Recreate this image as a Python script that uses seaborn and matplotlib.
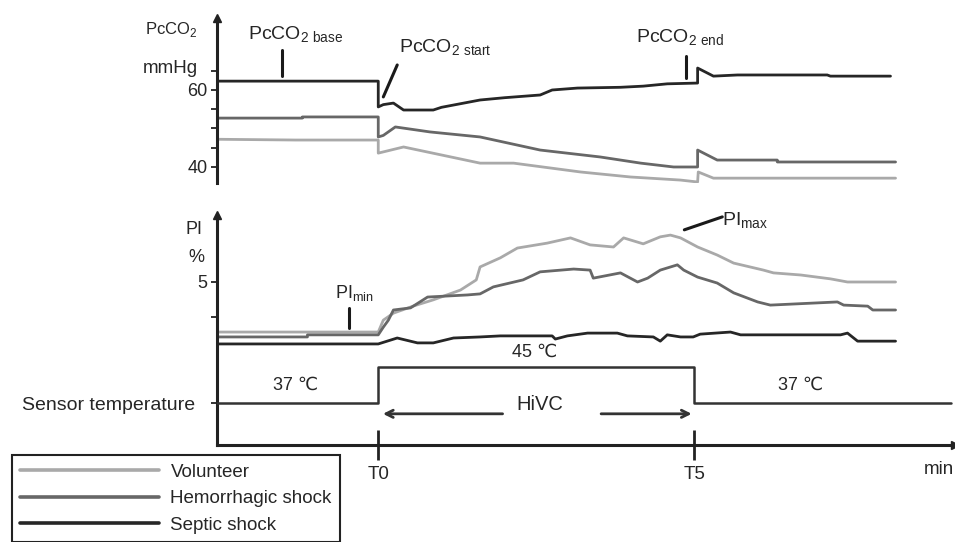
import numpy as np
import pandas as pd
import matplotlib.pyplot as plt
import seaborn as sns
from matplotlib.lines import Line2D

# time in min (T0 = 0, T5 = 5)
# PcCO2 (mmHg)
vol_co2_t = [-2.55, -1.3, 0.0, 0.0, 0.40, 1.61, 2.14, 3.20, 3.99, 4.78, 5.05, 5.06, 5.30, 8.18]
vol_co2 = [47.2, 47.0, 47.0, 43.6, 45.2, 41.0, 41.0, 38.7, 37.4, 36.6, 36.1, 38.7, 37.1, 37.1]
hem_co2_t = [-2.55, -1.20, -1.20, 0.0, 0.0, 0.08, 0.27, 0.82, 1.61, 2.56, 3.51, 4.15, 4.67, 5.05, 5.05, 5.36, 6.31,
             6.31, 8.18]
hem_co2 = [52.7, 52.7, 53.0, 53.0, 47.8, 48.2, 50.4, 49.1, 47.8, 44.4, 42.6, 41.0, 40.0, 40.0, 44.4, 41.8, 41.8,
           41.3, 41.3]
sep_co2_t = [-2.55, 0.0, 0.0, 0.08, 0.24, 0.40, 0.87, 1.0, 1.61, 2.0, 2.56, 2.75, 3.15, 3.83, 4.19, 4.57, 5.05,
             5.05, 5.30, 5.68, 7.10, 7.15, 8.10]
sep_co2 = [62.3, 62.3, 55.6, 56.2, 56.6, 54.8, 54.8, 55.5, 57.4, 58.0, 58.7, 60.0, 60.5, 60.7, 61.0, 61.6, 61.8,
           65.7, 63.6, 63.9, 63.9, 63.6, 63.6]

# PI (%)
vol_pi_t = [-2.55, 0.0, 0.08, 0.24, 0.55, 0.87, 1.30, 1.55, 1.61, 1.93, 2.20, 2.67, 3.04, 3.35, 3.72, 3.88, 4.19,
            4.46, 4.62, 4.78, 5.05, 5.36, 5.62, 6.09, 6.25, 6.68, 7.15, 7.42, 8.18]
vol_pi = [3.57, 3.57, 3.91, 4.11, 4.31, 4.49, 4.77, 5.06, 5.43, 5.69, 5.97, 6.11, 6.26, 6.06, 6.0, 6.26, 6.09,
          6.29, 6.34, 6.26, 6.0, 5.77, 5.54, 5.34, 5.26, 5.2, 5.09, 5.0, 5.0]
hem_pi_t = [-2.55, -1.12, -1.12, 0.0, 0.08, 0.16, 0.24, 0.51, 0.78, 1.41, 1.61, 1.82, 2.29, 2.56, 3.09, 3.35, 3.40,
            3.83, 4.10, 4.26, 4.46, 4.73, 4.83, 5.05, 5.36, 5.62, 6.00, 6.20, 7.26, 7.36, 7.74, 7.82, 8.18]
hem_pi = [3.43, 3.43, 3.49, 3.49, 3.71, 3.91, 4.2, 4.26, 4.57, 4.63, 4.66, 4.86, 5.06, 5.29, 5.37, 5.34, 5.11,
          5.26, 5.0, 5.11, 5.34, 5.49, 5.34, 5.14, 4.97, 4.69, 4.43, 4.34, 4.43, 4.34, 4.31, 4.2, 4.2]
sep_pi_t = [-2.55, 0.0, 0.30, 0.62, 0.87, 1.19, 1.61, 1.93, 2.75, 2.80, 2.99, 3.31, 3.78, 3.94, 4.35, 4.46, 4.57,
            4.78, 4.98, 5.09, 5.57, 5.73, 7.31, 7.42, 7.58, 8.18]
sep_pi = [3.23, 3.23, 3.4, 3.26, 3.26, 3.4, 3.43, 3.46, 3.46, 3.37, 3.46, 3.54, 3.54, 3.46, 3.43, 3.31, 3.49,
          3.43, 3.43, 3.51, 3.57, 3.49, 3.49, 3.54, 3.31, 3.31]

# sensor temperature (°C)
temp_t = [-2.55, 0.0, 0.0, 5.0, 5.0, 9.05]
temp_c = [37, 37, 45, 45, 37, 37]

groups = ['Volunteer', 'Hemorrhagic shock', 'Septic shock']
colors = ['#a9a9a9', '#676767', '#262626']

sns.set_style('white')
plt.rcParams['font.family'] = ['Liberation Sans', 'DejaVu Sans']
plt.rcParams['mathtext.fontset'] = 'custom'
plt.rcParams['mathtext.rm'] = 'Liberation Sans'
plt.rcParams['font.size'] = 13

fig = plt.figure(figsize=(9.55, 5.42), dpi=100)
xl = (-2.55, 9.12)
left, width = 217 / 955, 738 / 955
ax1 = fig.add_axes([left, 1 - 183 / 542, width, 165 / 542])
ax2 = fig.add_axes([left, 1 - 445 / 542, width, 230 / 542])
ax3 = fig.add_axes([left, 1 - 445 / 542, width, 230 / 542])
ax3.patch.set_visible(False)

axc = '#222222'
lw = 2.0

co2 = [(vol_co2_t, vol_co2), (hem_co2_t, hem_co2), (sep_co2_t, sep_co2)]
pi = [(vol_pi_t, vol_pi), (hem_pi_t, hem_pi), (sep_pi_t, sep_pi)]
for (t, v), c in zip(co2, colors):
    sns.lineplot(x=t, y=v, ax=ax1, color=c, lw=lw, sort=False, estimator=None)
for (t, v), c in zip(pi, colors):
    sns.lineplot(x=t, y=v, ax=ax2, color=c, lw=lw, sort=False, estimator=None)
sns.lineplot(x=temp_t, y=temp_c, ax=ax3, color='#333333', lw=1.8, sort=False, estimator=None)

# axes limits
ax1.set_xlim(xl)
ax1.set_ylim(35.84, 78.7)
ax2.set_xlim(xl)
ax2.set_ylim(0.343, 6.914)
ax3.set_xlim(xl)
ax3.set_ylim(27.67, 78.78)

for a in (ax1, ax2, ax3):
    for s in a.spines.values():
        s.set_visible(False)
    a.set_xlabel('')
    a.set_ylabel('')

# vertical axes with arrows
for a in (ax1, ax2):
    a.spines['left'].set_visible(True)
    a.spines['left'].set_linewidth(2.2)
    a.spines['left'].set_color(axc)
    a.plot(0, 1, marker='^', ms=6, color=axc, transform=a.transAxes, clip_on=False)
ax2.spines['bottom'].set_visible(True)
ax2.spines['bottom'].set_linewidth(2.2)
ax2.spines['bottom'].set_color(axc)
ax2.plot(1, 0, marker='>', ms=6, color=axc, transform=ax2.transAxes, clip_on=False)

# ticks
ax1.set_yticks([40, 45, 50, 55, 60, 65], ['40', '', '', '', '60', ''])
ax1.tick_params(axis='y', left=True, length=4, width=1.3, color=axc, pad=3, labelsize=13)
ax1.set_xticks([])
ax2.set_yticks([4, 5], ['', '5'])
ax2.tick_params(axis='y', left=True, length=4, width=1.3, color=axc, pad=3, labelsize=13)
ax2.set_xticks([0, 5], ['T0', 'T5'])
ax2.tick_params(axis='x', bottom=True, direction='inout', length=22, width=2, color=axc, pad=4,
                labelsize=13.5)
ax3.set_yticks([37], ['Sensor temperature'])
ax3.tick_params(axis='y', left=True, length=4, width=1.3, color=axc, pad=12, labelsize=14)
ax3.set_xticks([])
fig.text(0.999, 1 - 470 / 542, 'min', ha='right', va='center', fontsize=13.5)

# PcCO2 labels
ax1.text(-3.69, 75.6, 'PcCO$_2$', ha='left', va='center', clip_on=False, fontsize=12)
ax1.text(-3.72, 65.7, 'mmHg', ha='left', va='center', clip_on=False, fontsize=13.5)
ax1.text(-2.06, 74.3, r'PcCO$_{\rm 2\ base}$', ha='left', va='center', fontsize=14)
ax1.text(0.33, 70.9, r'PcCO$_{\rm 2\ start}$', ha='left', va='center', fontsize=14)
ax1.text(4.08, 73.5, r'PcCO$_{\rm 2\ end}$', ha='left', va='center', fontsize=14)
ax1.plot([-1.53, -1.53], [70.4, 63.6], color='#1a1a1a', lw=2.2)
ax1.plot([0.30, 0.08], [66.5, 58.2], color='#1a1a1a', lw=2.2)
ax1.plot([4.86, 4.86], [68.8, 63.1], color='#1a1a1a', lw=2.2)

# PI labels
ax2.text(-3.05, 6.49, 'PI', ha='left', va='center', clip_on=False, fontsize=13)
ax2.text(-3.0, 5.69, '%', ha='left', va='center', clip_on=False, fontsize=13)
ax2.text(-0.68, 4.69, r'PI$_{\rm min}$', ha='left', va='center', fontsize=13)
ax2.text(5.44, 6.74, r'PI$_{\rm max}$', ha='left', va='center', fontsize=14)
ax2.plot([-0.47, -0.47], [4.26, 3.69], color='#1a1a1a', lw=2.2)
ax2.plot([4.84, 5.44], [6.49, 6.86], color='#1a1a1a', lw=2.2)

# temperature labels
ax3.text(-1.31, 41.0, '37 ℃', ha='center', va='center', fontsize=13)
ax3.text(2.48, 48.3, '45 ℃', ha='center', va='center', fontsize=13)
ax3.text(6.68, 41.0, '37 ℃', ha='center', va='center', fontsize=13)
ax3.text(2.56, 36.6, 'HiVC', ha='center', va='center', fontsize=14.5)
ax3.annotate('', xy=(0.03, 34.6), xytext=(2.01, 34.6),
             arrowprops=dict(arrowstyle='->', color='#333333', lw=2))
ax3.annotate('', xy=(5.0, 34.6), xytext=(3.48, 34.6),
             arrowprops=dict(arrowstyle='->', color='#333333', lw=2))

# legend
handles = [Line2D([], [], color=c, lw=2.6) for c in colors]
leg = fig.legend(handles, groups, loc='upper left', bbox_to_anchor=(12 / 955, 1 - 455 / 542),
                 borderaxespad=0, handlelength=7.4, labelspacing=0.5, handletextpad=0.6, borderpad=0.45,
                 fancybox=False, edgecolor='#222222', framealpha=1, fontsize=13.5)
leg.get_frame().set_linewidth(1.5)
leg.set_in_layout(False)

fig.savefig('out.png', dpi=100)
